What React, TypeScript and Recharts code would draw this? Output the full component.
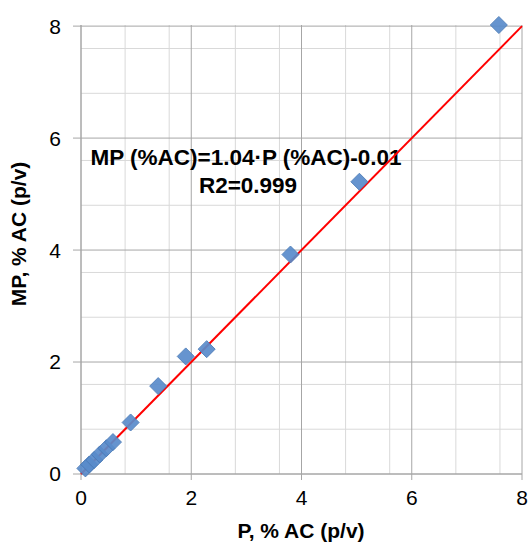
import { ScatterChart, Scatter, XAxis, YAxis, CartesianGrid, Customized } from "recharts"

// measured points (P vs MP, % AC)
const pValues = [0.08, 0.15, 0.24, 0.34, 0.46, 0.58, 0.9, 1.4, 1.9, 2.28, 3.8, 5.05, 7.58]
const mpValues = [0.1, 0.17, 0.25, 0.35, 0.46, 0.57, 0.92, 1.57, 2.1, 2.23, 3.92, 5.22, 8.02]

// fitted line end points
const fitX = [0, 8]
const fitY = [0, 8]

const majorTicks = [0, 2, 4, 6, 8]
const minorTicks = [0.4, 0.8, 1.2, 1.6, 2.4, 2.8, 3.2, 3.6, 4.4, 4.8, 5.2, 5.6, 6.4, 6.8, 7.2, 7.6]

const equation = "MP (%AC)=1.04·P (%AC)-0.01"
const r2Label = "R2=0.999"
const xTitle = "P, % AC (p/v)"
const yTitle = "MP, % AC (p/v)"

const points = pValues.map((p, i) => ({ x: p, y: mpValues[i] }))
const fitLine = fitX.map((x, i) => ({ x, y: fitY[i] }))

const font = "'Liberation Sans', Arial, sans-serif"

function Diamond(props: any) {
  const { cx, cy } = props
  const r = 8.5
  return (
    <polygon
      points={`${cx},${cy - r} ${cx + r},${cy} ${cx},${cy + r} ${cx - r},${cy}`}
      fill="#5a8ccb"
      stroke="#4a7bb8"
      strokeWidth={1}
      opacity={0.92}
    />
  )
}

function Labels() {
  return (
    <g fontFamily={font} fontWeight="bold" fill="#000">
      <text x={246} y={165} textAnchor="middle" fontSize={22.5}>
        {equation}
      </text>
      <text x={248} y={193} textAnchor="middle" fontSize={22.5}>
        {r2Label}
      </text>
      <text x={301} y={538} textAnchor="middle" fontSize={21}>
        {xTitle}
      </text>
      <text x={0} y={0} textAnchor="middle" fontSize={21} transform="translate(26 234) rotate(-90)">
        {yTitle}
      </text>
    </g>
  )
}

export default function App() {
  return (
    <div style={{ position: "absolute", left: 0, top: 0, background: "#fff" }}>
      <ScatterChart width={528} height={543} margin={{ top: 25, right: 6, bottom: 0, left: 0 }}>
        <CartesianGrid
          stroke="#d9d9d9"
          strokeWidth={1}
          verticalValues={minorTicks}
          horizontalValues={minorTicks}
        />
        <CartesianGrid
          stroke="#a6a6a6"
          strokeWidth={1}
          verticalValues={majorTicks}
          horizontalValues={majorTicks}
        />
        <XAxis
          type="number"
          dataKey="x"
          domain={[0, 8]}
          ticks={majorTicks}
          height={69}
          tickSize={6}
          tickMargin={10}
          axisLine={{ stroke: "#a6a6a6" }}
          tickLine={{ stroke: "#a6a6a6" }}
          tick={{ fill: "#000", fontSize: 21, fontFamily: font }}
        />
        <YAxis
          type="number"
          dataKey="y"
          domain={[0, 8]}
          ticks={majorTicks}
          width={81}
          tickSize={8}
          tickMargin={12}
          axisLine={{ stroke: "#a6a6a6" }}
          tickLine={{ stroke: "#a6a6a6" }}
          tick={{ fill: "#000", fontSize: 21, fontFamily: font }}
        />
        <Scatter
          data={fitLine}
          line={{ stroke: "#ff0000", strokeWidth: 2 }}
          shape={() => <g />}
          isAnimationActive={false}
        />
        <Scatter data={points} shape={Diamond} isAnimationActive={false} />
        <Customized component={Labels} />
      </ScatterChart>
    </div>
  )
}
